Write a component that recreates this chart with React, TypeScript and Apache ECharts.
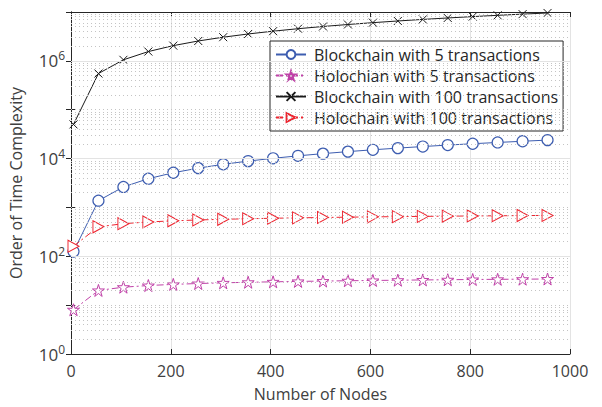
import React, { useEffect, useRef } from "react";
import * as echarts from "echarts";

const nodes = [5, 55, 105, 155, 205, 255, 305, 355, 405, 455, 505, 555, 605, 655, 705, 755, 805, 855, 905, 955];
const blockchain5 = [125, 1375, 2625, 3875, 5125, 6375, 7625, 8875, 10125, 11375, 12625, 13875, 15125, 16375, 17625, 18875, 20125, 21375, 22625, 23875];
const holochain5 = [8.05, 20.0, 23.3, 25.2, 26.6, 27.7, 28.6, 29.4, 30.0, 30.6, 31.1, 31.6, 32.0, 32.4, 32.8, 33.1, 33.5, 33.8, 34.0, 34.3];
const blockchain100 = [50000, 550000, 1050000, 1550000, 2050000, 2550000, 3050000, 3550000, 4050000, 4550000, 5050000, 5550000, 6050000, 6550000, 7050000, 7550000, 8050000, 8550000, 9050000, 9550000];
const holochain100 = [161, 401, 465, 504, 532, 554, 572, 587, 600, 612, 622, 632, 641, 648, 656, 663, 669, 675, 681, 686];
const xTicks = [0, 200, 400, 600, 800, 1000];
const yMajorTicks = [1e0, 1e2, 1e4, 1e6];

const names = [
  "Blockchain with 5 transactions",
  "Holochian with 5 transactions",
  "Blockchain with 100 transactions",
  "Holochain with 100 transactions",
];

const STAR = "path://M50,2 L61,36 L97,36 L68,57 L79,92 L50,70 L21,92 L32,57 L3,36 L39,36 Z";
const CROSS = "path://M0,0 L10,10 M10,0 L0,10";
const TRI = "path://M0,0 L10,5 L0,10 Z";

const FONT = "'Open Sans', 'Noto Sans', sans-serif";
const TEXT = "#404040";
const AXIS = "#262626";

export default function App() {
  const ref = useRef<HTMLDivElement>(null);
  useEffect(() => {
    if (!ref.current) return;
    const chart = echarts.init(ref.current, undefined, { renderer: "svg" });
    const minorY: any[] = [];
    for (let e = 0; e < 7; e++) {
      for (let k = 1; k <= 9; k++) {
        if (k === 1 && e % 2 === 0) continue;
        minorY.push({ yAxis: k * Math.pow(10, e) });
      }
    }
    const majorY = yMajorTicks.slice(1).map((v) => ({ yAxis: v }));
    const pair = (arr: number[]) => nodes.map((n, i) => [n, arr[i]]);
    const dashDot = [7, 3, 2, 3];
    chart.setOption({
      animation: false,
      backgroundColor: "#fff",
      textStyle: { fontFamily: FONT },
      grid: { left: 70, right: 32, top: 12, bottom: 50, containLabel: false },
      legend: {
        data: names,
        orient: "vertical",
        left: 270,
        top: 41,
        padding: [4, 5, 4, 5],
        itemGap: 2,
        itemWidth: 30,
        itemHeight: 11,
        backgroundColor: "#fff",
        borderColor: AXIS,
        borderWidth: 1,
        borderRadius: 0,
        textStyle: { fontSize: 16, lineHeight: 19, color: AXIS, fontFamily: FONT, padding: [0, 0, 0, 3] },
      },
      xAxis: [
        {
          type: "value",
          min: 0,
          max: 1000,
          interval: 200,
          name: "Number of Nodes",
          nameLocation: "middle",
          nameGap: 32,
          nameTextStyle: { fontSize: 16, color: TEXT, fontFamily: FONT },
          axisLine: { show: true, lineStyle: { color: AXIS, width: 1 } },
          axisTick: { show: true, inside: true, length: 5, lineStyle: { color: AXIS } },
          axisLabel: { fontSize: 16, color: TEXT, margin: 9, fontFamily: FONT,
            formatter: (v: number) => (xTicks.includes(v) ? String(v) : "") },
          splitLine: { show: true, lineStyle: { color: "#e3e3e3", width: 1 } },
        },
        {
          type: "value",
          position: "top",
          min: 0,
          max: 1000,
          interval: 200,
          axisLine: { show: true, lineStyle: { color: AXIS, width: 1 } },
          axisTick: { show: true, inside: true, length: 5, lineStyle: { color: AXIS } },
          axisLabel: { show: false },
          splitLine: { show: false },
        },
      ],
      yAxis: [
        {
          type: "log",
          logBase: 10,
          min: 1,
          max: 1e7,
          name: "Order of Time Complexity",
          nameLocation: "middle",
          nameGap: 47,
          nameTextStyle: { fontSize: 16, color: TEXT, fontFamily: FONT },
          axisLine: { show: true, lineStyle: { color: AXIS, width: 1 } },
          axisTick: { show: true, inside: true, length: 5, lineStyle: { color: AXIS } },
          axisLabel: {
            color: TEXT,
            margin: 6,
            formatter: (v: number) => {
              const e = Math.round(Math.log10(v));
              return yMajorTicks.some((t) => Math.abs(t - v) < 1e-6 * t) ? `{b|10}{s|${e}}` : "";
            },
            rich: {
              b: { fontSize: 17, color: TEXT, fontFamily: FONT },
              s: { fontSize: 12, color: TEXT, fontFamily: FONT, padding: [0, 0, 10, 0] },
            },
          },
          splitLine: { show: false },
        },
        {
          type: "log",
          logBase: 10,
          min: 1,
          max: 1e7,
          position: "right",
          axisLine: { show: true, lineStyle: { color: AXIS, width: 1 } },
          axisTick: { show: true, inside: true, length: 5, lineStyle: { color: AXIS } },
          axisLabel: { show: false },
          splitLine: { show: false },
        },
      ],
      series: [
        {
          name: "grid",
          type: "line",
          data: [],
          silent: true,
          z: 0,
          markLine: {
            silent: true,
            symbol: ["none", "none"],
            label: { show: false },
            animation: false,
            data: [
              ...minorY.map((d) => ({ ...d, lineStyle: { type: [1, 3], color: "#c4c4c4", width: 1 } })),
              ...majorY.map((d) => ({ ...d, lineStyle: { type: "solid", color: "#e3e3e3", width: 1 } })),
            ],
          },
        },
        {
          name: names[0],
          type: "line",
          data: pair(blockchain5),
          symbol: "circle",
          symbolSize: 11,
          color: "#3d5db0",
          lineStyle: { color: "#3d5db0", width: 1 },
          itemStyle: { color: "#fff", borderColor: "#3d5db0", borderWidth: 1.2 },
          z: 3,
        },
        {
          name: names[1],
          type: "line",
          data: pair(holochain5),
          symbol: STAR,
          symbolSize: 12,
          color: "#c040a8",
          lineStyle: { color: "#c040a8", width: 1, type: dashDot },
          itemStyle: { color: "#fff", borderColor: "#c040a8", borderWidth: 1 },
          z: 3,
        },
        {
          name: names[2],
          type: "line",
          data: pair(blockchain100),
          symbol: CROSS,
          symbolSize: 8,
          color: "#1a1a1a",
          lineStyle: { color: "#1a1a1a", width: 1 },
          itemStyle: { color: "none", borderColor: "#1a1a1a", borderWidth: 1 },
          z: 3,
        },
        {
          name: names[3],
          type: "line",
          data: pair(holochain100),
          symbol: TRI,
          symbolSize: [11, 12],
          color: "#ee2530",
          lineStyle: { color: "#ee2530", width: 1, type: dashDot },
          itemStyle: { color: "#fff", borderColor: "#ee2530", borderWidth: 1 },
          z: 3,
        },
      ],
    });
    return () => chart.dispose();
  }, []);
  return <div ref={ref} style={{ width: 602, height: 407, position: "absolute", left: 0, top: 0 }} />;
}
